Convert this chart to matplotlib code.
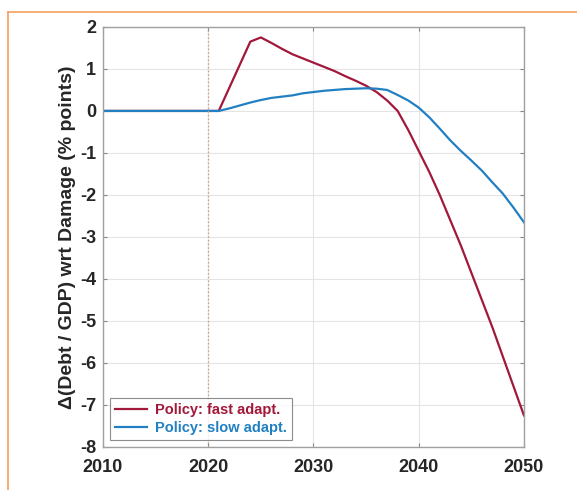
# Debt/GDP difference under fast vs slow adaptation policy
import numpy as np
import matplotlib.pyplot as plt
from matplotlib.lines import Line2D

plt.rcParams['font.family'] = ['Liberation Sans', 'DejaVu Sans']
plt.rcParams['axes.unicode_minus'] = False

years = np.arange(2010, 2051)

# values, 2010..2050
fast_adapt = [0, 0, 0, 0, 0, 0, 0, 0, 0, 0, 0, 0,
              0.55, 1.1, 1.65, 1.75, 1.62, 1.48, 1.35, 1.25, 1.15,
              1.05, 0.95, 0.83, 0.72, 0.6, 0.45, 0.25, 0.0, -0.45, -0.95,
              -1.45, -2.0, -2.6, -3.2, -3.85, -4.5, -5.15, -5.85, -6.55, -7.25]
slow_adapt = [0, 0, 0, 0, 0, 0, 0, 0, 0, 0, 0, 0,
              0.06, 0.13, 0.2, 0.26, 0.31, 0.34, 0.37, 0.42, 0.45,
              0.48, 0.5, 0.52, 0.53, 0.54, 0.53, 0.5, 0.38, 0.25, 0.08,
              -0.15, -0.42, -0.7, -0.95, -1.18, -1.42, -1.7, -1.97, -2.3, -2.65]

policy_year = 2020
red = '#A2183A'
blue = '#2280C2'

fig = plt.figure(figsize=(5.77, 4.9), dpi=100)
ax = fig.add_axes([0.1785, 0.088, 0.7295, 0.857])

ax.plot(years, fast_adapt, color=red, lw=1.6, label='Policy: fast adapt.')
ax.plot(years, slow_adapt, color=blue, lw=1.6, label='Policy: slow adapt.')
ax.axvline(policy_year, color='#C8A080', lw=1.0, ls=':')

ax.set_xlim(2010, 2050)
ax.set_ylim(-8, 2)
ax.set_xticks(np.arange(2010, 2051, 10))
ax.set_yticks(np.arange(-8, 3, 1))
ax.grid(True, color='#E4E4E4', lw=0.8)
ax.set_axisbelow(True)
ax.tick_params(direction='in', top=True, right=True, length=3, color='#888888',
               labelsize=13)
ax.tick_params(axis='x', pad=9)
ax.tick_params(axis='y', pad=5)
for lbl in ax.get_xticklabels() + ax.get_yticklabels():
    lbl.set_fontweight('bold')
    lbl.set_color('#262626')
for sp in ax.spines.values():
    sp.set_color('#A0A0A0')
    sp.set_linewidth(1.0)

ax.set_ylabel('\u0394(Debt / GDP) wrt Damage (% points)', fontsize=14,
              fontweight='bold', color='#262626', labelpad=3)

leg = ax.legend(loc='lower left', fontsize=10.5, frameon=True, fancybox=False,
                edgecolor='#707070', handlelength=2.2, borderaxespad=0.45,
                borderpad=0.35, labelspacing=0.3, handletextpad=0.6)
for txt, c in zip(leg.get_texts(), [red, blue]):
    txt.set_color(c)
    txt.set_fontweight('bold')
leg.get_frame().set_linewidth(0.8)

# orange frame around the figure panel
fig.add_artist(Line2D([8 / 577, 1], [1 - 12 / 490, 1 - 12 / 490], color='#F4A060', lw=1.2))
fig.add_artist(Line2D([8 / 577, 8 / 577], [0, 1 - 12 / 490], color='#F4A060', lw=1.2))

plt.savefig('out.png', dpi=100)
